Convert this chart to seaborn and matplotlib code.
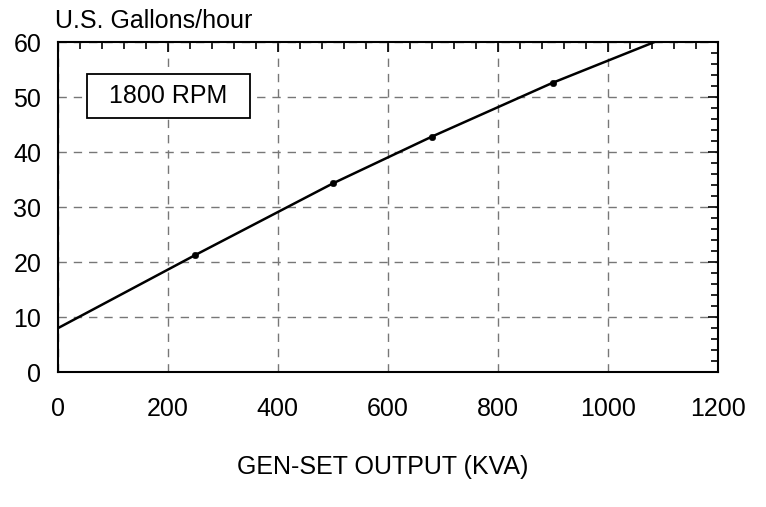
import numpy as np
import pandas as pd
import seaborn as sns
import matplotlib.pyplot as plt
from matplotlib.patches import Rectangle
from matplotlib.ticker import MultipleLocator

# curve
CURVE_KVA = [0, 250, 500, 680, 900, 1085]
CURVE_GPH = [8.0, 21.3, 34.3, 42.8, 52.6, 60.0]

# marked points
POINT_KVA = [250, 500, 680, 900]
POINT_GPH = [21.3, 34.3, 42.8, 52.6]

X_TICKS = [0, 200, 400, 600, 800, 1000, 1200]
Y_TICKS = [0, 10, 20, 30, 40, 50, 60]

sns.set_theme(style="white")
plt.rcParams['font.family'] = ['Liberation Sans', 'DejaVu Sans']
plt.rcParams['text.color'] = 'black'

curve = pd.DataFrame({'kva': CURVE_KVA, 'gph': CURVE_GPH})
points = pd.DataFrame({'kva': POINT_KVA, 'gph': POINT_GPH})

fig = plt.figure(figsize=(7.66, 5.07), dpi=100)
ax = fig.add_axes([0.0757, 0.266, 0.861, 0.651])

sns.lineplot(data=curve, x='kva', y='gph', ax=ax, color='black', linewidth=1.8)
sns.scatterplot(data=points, x='kva', y='gph', ax=ax, color='black', s=22,
                edgecolor='black', zorder=5)

ax.set_xlim(0, 1200)
ax.set_ylim(0, 60)
ax.set_xticks(X_TICKS)
ax.set_yticks(Y_TICKS)
ax.xaxis.set_minor_locator(MultipleLocator(40))
ax.yaxis.set_minor_locator(MultipleLocator(2))
ax.tick_params(which='both', direction='in', top=True, right=True,
               colors='black', labelcolor='black', labelsize=18, width=1.2)
ax.tick_params(which='major', length=7)
ax.tick_params(which='minor', length=5)
ax.tick_params(axis='x', which='major', pad=18)
ax.tick_params(axis='y', which='major', pad=12)
ax.grid(True, which='major', linestyle=(0, (6, 5)), color='#777777', linewidth=1)

for s in ax.spines.values():
    s.set_color('black')
    s.set_linewidth(1.5)

ax.set_xlabel('')
ax.set_ylabel('')
fig.text(0.0718, 0.958, 'U.S. Gallons/hour', fontsize=18, ha='left', va='center')
fig.text(0.5, 0.078, 'GEN-SET OUTPUT (KVA)', fontsize=18, ha='center', va='center')

ax.add_patch(Rectangle((0.044, 0.770), 0.247, 0.133, transform=ax.transAxes,
                       facecolor='white', edgecolor='black', linewidth=1.3, zorder=6))
ax.text(0.167, 0.836, '1800 RPM', transform=ax.transAxes, fontsize=18,
        ha='center', va='center', zorder=7)

fig.savefig('out.png', dpi=100)
